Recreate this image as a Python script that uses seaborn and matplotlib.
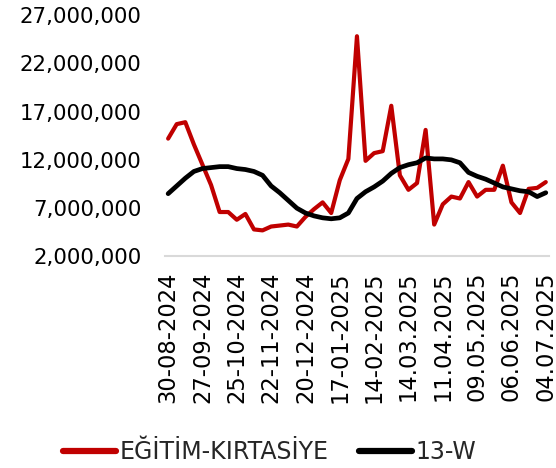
import matplotlib
matplotlib.use("Agg")
import matplotlib.pyplot as plt
import matplotlib.ticker as mticker
from matplotlib.lines import Line2D
import seaborn as sns
import pandas as pd

dates = [
    "30-08-2024", "06-09-2024", "13-09-2024", "20-09-2024", "27-09-2024",
    "04-10-2024", "11-10-2024", "18-10-2024", "25-10-2024", "01-11-2024",
    "08-11-2024", "15-11-2024", "22-11-2024", "29-11-2024", "06-12-2024",
    "13-12-2024", "20-12-2024", "27-12-2024", "03-01-2025", "10-01-2025",
    "17-01-2025", "24-01-2025", "31-01-2025", "07-02-2025", "14-02-2025",
    "21-02-2025", "28-02-2025", "07.03.2025", "14.03.2025", "21.03.2025",
    "28.03.2025", "04.04.2025", "11.04.2025", "18.04.2025", "25.04.2025",
    "02.05.2025", "09.05.2025", "16.05.2025", "23.05.2025", "30.05.2025",
    "06.06.2025", "13.06.2025", "20.06.2025", "27.06.2025", "04.07.2025",
]

egitim = [14.2, 15.7, 15.9, 13.6, 11.5, 9.4, 6.6, 6.6, 5.8, 6.4,
          4.8, 4.7, 5.1, 5.2, 5.3, 5.1, 6.1, 6.9, 7.6, 6.5,
          9.9, 12.1, 24.8, 11.9, 12.7, 12.9, 17.6, 10.4, 8.9, 9.6,
          15.1, 5.3, 7.4, 8.2, 8.0, 9.7, 8.2, 8.9, 8.9, 11.4,
          7.6, 6.5, 9.0, 9.1, 9.7]

w13 = [8.5, 9.3, 10.1, 10.8, 11.1, 11.2, 11.3, 11.3, 11.1, 11.0,
       10.8, 10.4, 9.3, 8.6, 7.8, 7.0, 6.5, 6.2, 6.0, 5.9,
       6.0, 6.5, 8.0, 8.7, 9.2, 9.8, 10.6, 11.2, 11.5, 11.7,
       12.2, 12.1, 12.1, 12.0, 11.7, 10.7, 10.3, 10.0, 9.6, 9.2,
       9.0, 8.8, 8.7, 8.2, 8.6]

series_names = ["EĞİTİM-KIRTASİYE", "13-W"]
colors = ["#C00000", "#000000"]

rows = []
for i, d in enumerate(dates):
    rows.append({"idx": i, "date": d, "series": series_names[0], "value": egitim[i] * 1e6})
    rows.append({"idx": i, "date": d, "series": series_names[1], "value": w13[i] * 1e6})
df = pd.DataFrame(rows)

sns.set_theme(style="white")
plt.rcParams["font.family"] = ["DejaVu Sans"]

fig = plt.figure(figsize=(5.56, 4.68), dpi=100)
ax = fig.add_axes([0.297, 0.452, 0.690, 0.516])

sns.lineplot(data=df, x="idx", y="value", hue="series", hue_order=series_names,
             palette=colors, linewidth=3.0, ax=ax, legend=False)
ax.lines[1].set_linewidth(3.4)

ax.set_ylim(2e6, 27e6)
ax.set_yticks([2e6, 7e6, 12e6, 17e6, 22e6, 27e6])
ax.yaxis.set_major_formatter(mticker.StrMethodFormatter("{x:,.0f}"))
ax.set_xlim(-0.35, 44.35)
tick_pos = list(range(0, len(dates), 4))
ax.set_xticks(tick_pos)
ax.set_xticklabels([dates[i] for i in tick_pos], rotation=90)
ax.tick_params(axis="both", length=0, colors="#000000")
ax.tick_params(axis="y", pad=17, labelsize=15.3)
ax.tick_params(axis="x", pad=11, labelsize=16.3)
ax.set_xlabel("")
ax.set_ylabel("")
for s in ["top", "right", "left"]:
    ax.spines[s].set_visible(False)
ax.spines["bottom"].set_color("#d9d9d9")
ax.spines["bottom"].set_linewidth(1.5)
ax.grid(False)

handles = [Line2D([0], [0], color=c, linewidth=4.5, solid_capstyle="round") for c in colors]
fig.legend(handles, series_names, loc="center", bbox_to_anchor=(0.485, 0.034),
           ncol=2, frameon=False, fontsize=17, handlelength=2.25, handletextpad=0.15,
           columnspacing=1.3)

fig.savefig("out.png", dpi=100)
